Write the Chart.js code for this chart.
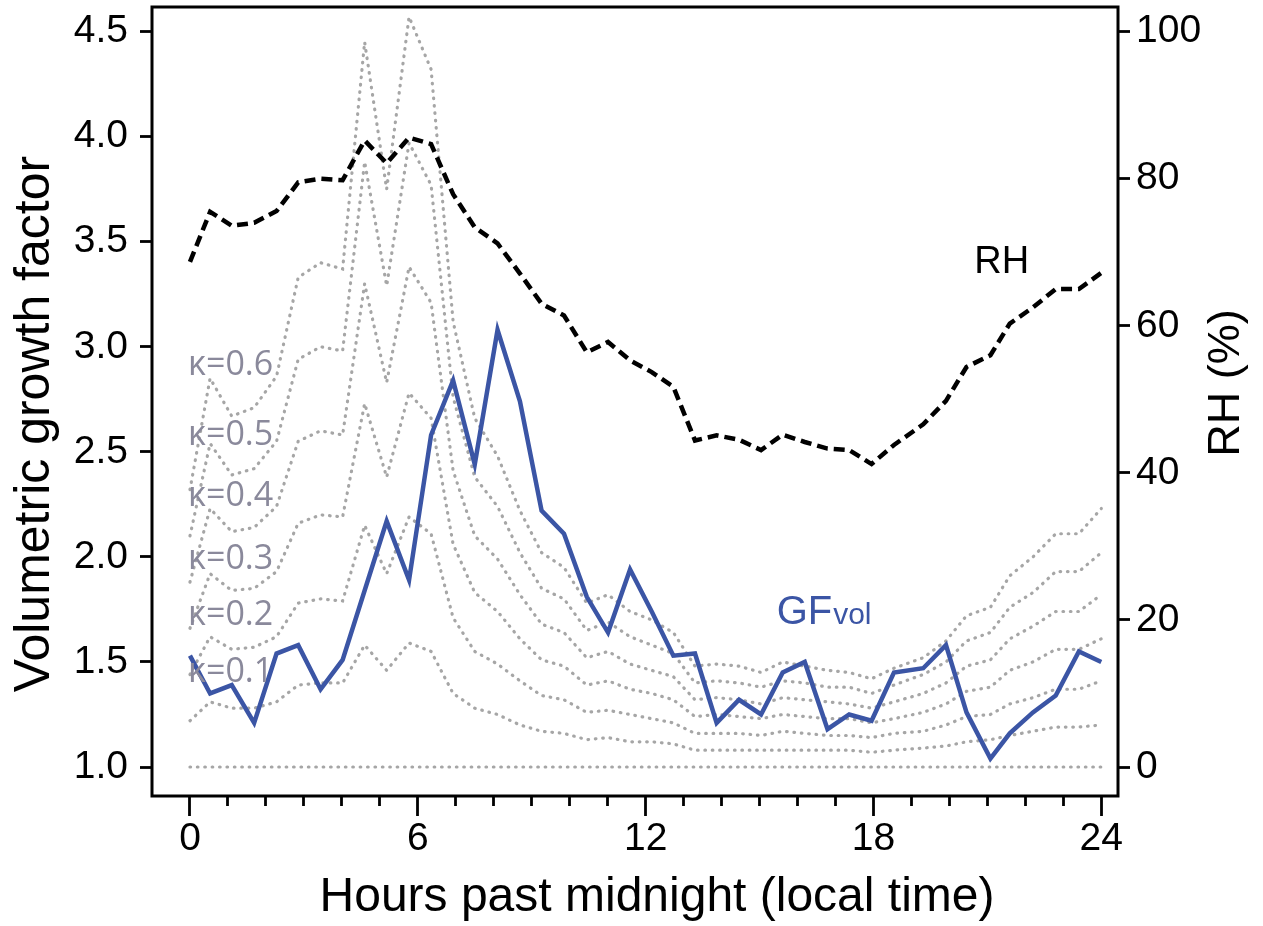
<!DOCTYPE html>
<html>
<head>
<meta charset="utf-8">
<script src="https://cdn.jsdelivr.net/npm/chart.js@4/dist/chart.umd.min.js"></script>
<style>
  html, body { margin: 0; padding: 0; background: #fff; }
  #wrap { width: 1263px; height: 926px; }
</style>
</head>
<body>
<div id="wrap"><canvas id="gf-chart" width="1263" height="926"></canvas></div>
<script>
// 시간 (local time, hours past midnight)
const hours = [0.00, 0.53, 1.10, 1.69, 2.28, 2.85, 3.44, 4.02, 4.60, 5.18, 5.77, 6.35, 6.93, 7.50, 8.10, 8.69, 9.26, 9.85, 10.45, 11.01, 11.59,
  12.16, 12.73, 13.30, 13.87, 14.46, 15.04, 15.61, 16.19, 16.79, 17.36, 17.95, 18.54, 19.31, 19.91, 20.45, 21.08, 21.59, 22.20, 22.80, 23.41, 24.00];

// GFvol (blue)
const gfVol = [1.53, 1.35, 1.39, 1.21, 1.54, 1.58, 1.37, 1.51, 1.84, 2.17, 1.89, 2.58, 2.84, 2.44, 3.08, 2.74, 2.22, 2.11, 1.81, 1.64, 1.94,
  1.74, 1.53, 1.54, 1.21, 1.32, 1.25, 1.45, 1.50, 1.18, 1.25, 1.22, 1.45, 1.47, 1.58, 1.26, 1.04, 1.16, 1.26, 1.34, 1.55, 1.50];

// RH % (black dashed, right axis)
const rh = [68.7, 75.5, 73.6, 74.0, 75.6, 79.5, 80.0, 79.8, 85.2, 82.1, 85.6, 84.7, 77.9, 73.4, 71.2, 67.1, 63.0, 61.4, 56.4, 57.8, 55.3,
  53.7, 51.7, 44.4, 45.1, 44.5, 43.1, 45.2, 44.2, 43.3, 43.1, 41.2, 43.8, 46.6, 49.8, 54.4, 56.0, 60.3, 62.5, 65.0, 65.0, 67.2];

// kappa curves (grey dotted)
const kappa01 = [1.22, 1.31, 1.28, 1.28, 1.31, 1.39, 1.40, 1.40, 1.58, 1.46, 1.59, 1.55, 1.35, 1.28, 1.25, 1.20, 1.17, 1.16, 1.13, 1.14, 1.12,
  1.12, 1.11, 1.08, 1.08, 1.08, 1.08, 1.08, 1.08, 1.08, 1.08, 1.07, 1.08, 1.09, 1.10, 1.12, 1.13, 1.15, 1.17, 1.19, 1.19, 1.20];
const kappa02 = [1.44, 1.62, 1.56, 1.57, 1.62, 1.78, 1.80, 1.79, 2.15, 1.92, 2.19, 2.11, 1.71, 1.55, 1.49, 1.41, 1.34, 1.32, 1.26, 1.27, 1.25,
  1.23, 1.21, 1.16, 1.16, 1.16, 1.15, 1.17, 1.16, 1.15, 1.15, 1.14, 1.16, 1.17, 1.20, 1.24, 1.25, 1.30, 1.33, 1.37, 1.37, 1.41];
const kappa03 = [1.66, 1.92, 1.84, 1.85, 1.93, 2.16, 2.20, 2.19, 2.73, 2.38, 2.78, 2.66, 2.06, 1.83, 1.74, 1.61, 1.51, 1.48, 1.39, 1.41, 1.37,
  1.35, 1.32, 1.24, 1.25, 1.24, 1.23, 1.25, 1.24, 1.23, 1.23, 1.21, 1.23, 1.26, 1.30, 1.36, 1.38, 1.46, 1.50, 1.56, 1.56, 1.61];
const kappa04 = [1.88, 2.23, 2.12, 2.14, 2.24, 2.55, 2.60, 2.58, 3.30, 2.83, 3.38, 3.21, 2.41, 2.10, 1.99, 1.82, 1.68, 1.64, 1.52, 1.55, 1.49,
  1.46, 1.43, 1.32, 1.33, 1.32, 1.30, 1.33, 1.32, 1.31, 1.30, 1.28, 1.31, 1.35, 1.40, 1.48, 1.51, 1.61, 1.67, 1.74, 1.74, 1.82];
const kappa05 = [2.10, 2.54, 2.39, 2.42, 2.55, 2.94, 3.00, 2.98, 3.88, 3.29, 3.97, 3.77, 2.76, 2.38, 2.24, 2.02, 1.85, 1.80, 1.65, 1.69, 1.62,
  1.58, 1.54, 1.40, 1.41, 1.40, 1.38, 1.41, 1.40, 1.38, 1.38, 1.35, 1.39, 1.44, 1.50, 1.60, 1.64, 1.76, 1.83, 1.93, 1.93, 2.02];
const kappa06 = [2.32, 2.85, 2.67, 2.71, 2.86, 3.33, 3.40, 3.37, 4.45, 3.75, 4.57, 4.32, 3.12, 2.66, 2.48, 2.22, 2.02, 1.95, 1.78, 1.82, 1.74,
  1.70, 1.64, 1.48, 1.49, 1.48, 1.45, 1.50, 1.48, 1.46, 1.45, 1.42, 1.47, 1.52, 1.60, 1.72, 1.76, 1.91, 2.00, 2.11, 2.11, 2.23];
const kappa0Hours = [0, 24];
const kappa0 = [1.0, 1.0];

// 라벨 / 눈금
const kappaLabels = ['κ=0.6', 'κ=0.5', 'κ=0.4', 'κ=0.3', 'κ=0.2', 'κ=0.1'];
const kappaLabelY = [2.91, 2.58, 2.29, 1.99, 1.72, 1.45];
const xTicks = [0, 1, 2, 3, 4, 5, 6, 7, 8, 9, 10, 11, 12, 13, 14, 15, 16, 17, 18, 19, 20, 21, 22, 23, 24];
const gfTicks = [1.0, 1.5, 2.0, 2.5, 3.0, 3.5, 4.0, 4.5];
const rhTicks = [0, 20, 40, 60, 80, 100];

const BLUE = '#3b55a5';
const GREY = '#a6a6a6';
const FONT = 'Liberation Sans, Arial, Helvetica, sans-serif';

function pts(xs, ys) {
  return xs.map((x, i) => ({x: x, y: ys[i]}));
}

function kappaSet(values, xs) {
  return {
    data: pts(xs || hours, values),
    yAxisID: 'y',
    borderColor: GREY,
    borderWidth: 3.2,
    borderDash: [0.6, 6.8],
    borderCapStyle: 'round',
    pointRadius: 0,
    tension: 0
  };
}

// 프레임 + 텍스트 라벨
const annotations = {
  id: 'annotations',
  afterDraw(chart) {
    const {ctx, chartArea, scales} = chart;
    const x = scales.x, y = scales.y;
    ctx.save();

    ctx.strokeStyle = '#000';
    ctx.lineWidth = 3;
    ctx.strokeRect(chartArea.left, chartArea.top, chartArea.right - chartArea.left, chartArea.bottom - chartArea.top);

    // kappa labels
    ctx.fillStyle = '#8a899b';
    ctx.font = '34px "Open Sans", "Noto Sans", sans-serif';
    ctx.textAlign = 'left';
    ctx.textBaseline = 'middle';
    kappaLabels.forEach((t, i) => {
      ctx.fillText(t, x.getPixelForValue(-0.05), y.getPixelForValue(kappaLabelY[i]));
    });

    // RH
    ctx.fillStyle = '#000';
    ctx.font = '38px ' + FONT;
    ctx.textAlign = 'center';
    ctx.fillText('RH', x.getPixelForValue(21.38), y.getPixelForValue(3.40));

    // GFvol
    ctx.fillStyle = BLUE;
    ctx.textAlign = 'left';
    ctx.textBaseline = 'alphabetic';
    const gx = x.getPixelForValue(15.45), gy = y.getPixelForValue(1.68);
    ctx.font = '40px ' + FONT;
    ctx.fillText('GF', gx, gy);
    const w = ctx.measureText('GF').width;
    ctx.font = '30px ' + FONT;
    ctx.fillText('vol', gx + w + 1, gy);

    // axis titles
    ctx.fillStyle = '#000';
    ctx.textAlign = 'center';
    ctx.textBaseline = 'middle';
    ctx.font = '48px ' + FONT;
    ctx.fillText('Hours past midnight (local time)', 657, 898);

    ctx.save();
    ctx.font = '50px ' + FONT;
    ctx.translate(35, 424);
    ctx.rotate(-Math.PI / 2);
    ctx.fillText('Volumetric growth factor', 0, 0);
    ctx.restore();

    ctx.font = '45px ' + FONT;
    ctx.translate(1227, 383);
    ctx.rotate(-Math.PI / 2);
    ctx.fillText('RH (%)', 0, 0);
    ctx.restore();
  }
};

let content = document.getElementById('gf-chart');

new Chart(content, {
  type: 'line',
  data: {
    datasets: [
      {
        data: pts(hours, gfVol),
        yAxisID: 'y',
        borderColor: BLUE,
        borderWidth: 4.5,
        pointRadius: 0,
        tension: 0
      },
      {
        data: pts(hours, rh),
        yAxisID: 'y2',
        borderColor: '#000',
        borderWidth: 4.5,
        borderDash: [11, 6],
        pointRadius: 0,
        tension: 0
      },
      kappaSet(kappa01),
      kappaSet(kappa02),
      kappaSet(kappa03),
      kappaSet(kappa04),
      kappaSet(kappa05),
      kappaSet(kappa06),
      kappaSet(kappa0, kappa0Hours)
    ]
  },
  options: {
    responsive: false,
    animation: false,
    layout: { padding: { top: 7 } },
    scales: {
      x: {
        type: 'linear',
        min: -1.0,
        max: 24.44,
        border: { display: false },
        afterBuildTicks: (s) => { s.ticks = xTicks.map(v => ({value: v})); },
        afterFit: (s) => { s.height = 130; s.paddingLeft = 0; s.paddingRight = 0; },
        grid: {
          drawOnChartArea: false,
          tickLength: 20,
          tickWidth: 2.8,
          tickColor: '#000',
          tickBorderDash: (c) => (c.tick && c.tick.value % 6 === 0) ? [] : [10, 40]
        },
        ticks: {
          autoSkip: false,
          maxRotation: 0,
          padding: 0,
          color: '#000',
          font: { family: FONT, size: 39 },
          callback: (v) => (v % 6 === 0 ? String(v) : '')
        }
      },
      y: {
        position: 'left',
        min: 0.862,
        max: 4.617,
        border: { display: false },
        afterBuildTicks: (s) => { s.ticks = gfTicks.map(v => ({value: v})); },
        afterFit: (s) => { s.width = 152; s.paddingTop = 0; s.paddingBottom = 0; },
        grid: {
          drawOnChartArea: false,
          tickLength: 12,
          tickWidth: 2.8,
          tickColor: '#000'
        },
        ticks: {
          padding: 12,
          color: '#000',
          font: { family: FONT, size: 39 },
          callback: (v) => Number(v).toFixed(1)
        }
      },
      y2: {
        position: 'right',
        min: -3.94,
        max: 103.35,
        border: { display: false },
        afterBuildTicks: (s) => { s.ticks = rhTicks.map(v => ({value: v})); },
        afterFit: (s) => { s.width = 145; s.paddingTop = 0; s.paddingBottom = 0; },
        grid: {
          drawOnChartArea: false,
          tickLength: 12,
          tickWidth: 2.8,
          tickColor: '#000'
        },
        ticks: {
          padding: 6,
          color: '#000',
          font: { family: FONT, size: 39 },
          callback: (v) => String(v)
        }
      }
    },
    plugins: {
      legend: { display: false },
      tooltip: { enabled: false }
    }
  },
  plugins: [annotations]
});
</script>
</body>
</html>
